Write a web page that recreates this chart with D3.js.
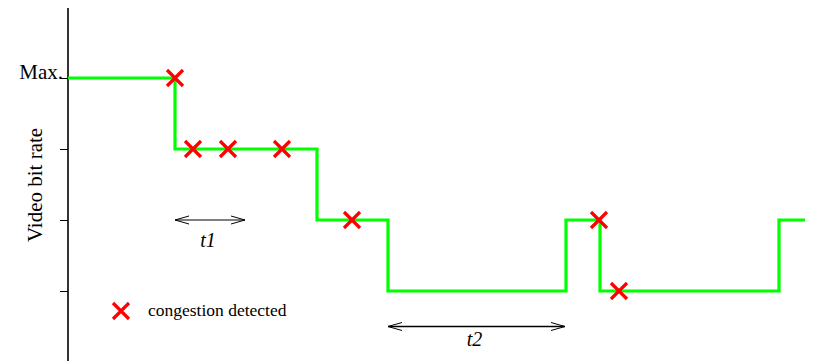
<!DOCTYPE html>
<html>
<head>
<meta charset="utf-8">
<script src="https://cdn.jsdelivr.net/npm/d3@7"></script>
<style>
  body { margin: 0; background: #fff; }
</style>
</head>
<body>
<svg width="823" height="361"></svg>
<script>
// step times (time units) and the bit-rate level held after each step
var stepTimes = [0, 107, 249, 320, 498, 532, 711, 737];
var stepLevels = [3, 2, 1, 0, 1, 0, 1];
// congestion events: time and level
var eventTimes = [107, 125, 160, 214, 284, 531, 551];
var eventLevels = [3, 2, 2, 2, 1, 1, 0];
var levelTicks = [0, 1, 2, 3];
var levelLabels = { 3: "Max." };
// interval markers
var intervals = [
  { name: "t1", from: 107, to: 177, level: 1, gap: 27 },
  { name: "t2", from: 320, to: 497, level: -0.5, gap: 19 }
];

var FONT = "'Liberation Serif', 'Times New Roman', Times, serif";
var svg = d3.select("svg").attr("font-family", FONT);

var x = d3.scaleLinear().domain([0, 737]).range([68, 805]);
var y = d3.scaleLinear().domain([0, 3]).range([291, 78]);

// y axis
var yAxis = d3.axisLeft(y)
  .tickValues(levelTicks)
  .tickSize(8)
  .tickFormat(function (d) { return levelLabels[d] || ""; });

var ga = svg.append("g").attr("transform", "translate(68,0)").call(yAxis)
  .attr("font-family", FONT).attr("font-size", 21);
ga.select(".domain").remove();
ga.selectAll(".tick line").attr("stroke", "#000").attr("stroke-width", 1);
ga.selectAll(".tick text")
  .attr("x", -5)
  .attr("dy", "0")
  .attr("fill", "#000");

svg.append("line")
  .attr("x1", 68).attr("x2", 68)
  .attr("y1", 8).attr("y2", 361)
  .attr("stroke", "#000").attr("stroke-width", 1.6);

svg.append("text")
  .attr("transform", "translate(42,185) rotate(-90)")
  .attr("text-anchor", "middle")
  .attr("font-size", 21)
  .text("Video bit rate");

// step line
var pts = [];
stepLevels.forEach(function (lv, i) {
  pts.push([stepTimes[i], lv]);
  pts.push([stepTimes[i + 1], lv]);
});
var line = d3.line()
  .x(function (d) { return x(d[0]); })
  .y(function (d) { return y(d[1]); });

svg.append("path")
  .attr("d", line(pts))
  .attr("fill", "none")
  .attr("stroke", "#00ff00")
  .attr("stroke-width", 3.2);

// crosses
function cross(g, cx, cy) {
  var s = 8;
  g.append("path")
    .attr("d", "M" + (cx - s) + "," + (cy - s) + "L" + (cx + s) + "," + (cy + s) +
      "M" + (cx - s) + "," + (cy + s) + "L" + (cx + s) + "," + (cy - s))
    .attr("stroke", "#ff0000")
    .attr("stroke-width", 3.2)
    .attr("fill", "none");
}
var gc = svg.append("g");
eventTimes.forEach(function (t, i) {
  cross(gc, x(t), y(eventLevels[i]));
});

// legend
cross(svg, 121, 311);
svg.append("text")
  .attr("x", 148).attr("y", 316)
  .attr("font-size", 17.5)
  .text("congestion detected");

// interval arrows
function arrowHead(x0, y0, dir) {
  return "M" + (x0 + dir * 14) + "," + (y0 - 4) + "L" + x0 + "," + y0 +
    "L" + (x0 + dir * 14) + "," + (y0 + 4);
}
intervals.forEach(function (iv) {
  var x1 = x(iv.from), x2 = x(iv.to), yy = y(iv.level);
  var g = svg.append("g").attr("stroke", "#000").attr("fill", "none").attr("stroke-width", 1);
  g.append("line").attr("x1", x1).attr("x2", x2).attr("y1", yy).attr("y2", yy)
    .attr("stroke-width", iv.name === "t2" ? 1.4 : 1);
  g.append("path").attr("d", arrowHead(x1, yy, 1));
  g.append("path").attr("d", arrowHead(x2, yy, -1));
  svg.append("text")
    .attr("x", (x1 + x2) / 2 - 2)
    .attr("y", yy + iv.gap)
    .attr("text-anchor", "middle")
    .attr("font-size", 20)
    .attr("font-style", "italic")
    .text(iv.name);
});
</script>
</body>
</html>
